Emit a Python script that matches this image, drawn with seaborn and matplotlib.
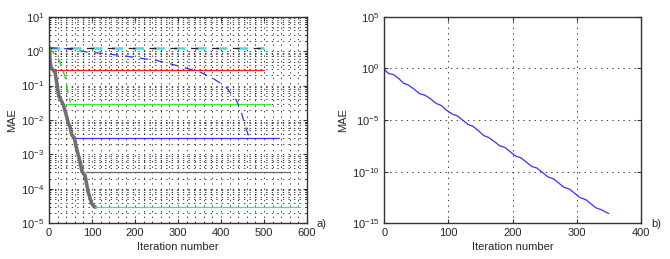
import numpy as np
import matplotlib
matplotlib.use('Agg')
import matplotlib.pyplot as plt
import seaborn as sns
from matplotlib.ticker import MultipleLocator, LogLocator, NullLocator, FixedLocator

# ---- panel a) : exponents (log10 MAE) ----
thick_x = [0, 2, 5, 10, 14, 18, 23, 28, 33, 39, 45, 49, 53, 59, 64, 72, 77, 84, 91, 99, 105, 108]
thick_exp = [0.12, -0.24, -0.48, -0.56, -0.6, -0.92, -1.31, -1.42, -1.55, -1.8, -2.09, -2.2,
             -2.43, -2.52, -2.82, -3.2, -3.5, -3.62, -4.08, -4.42, -4.52, -4.53]

flat_start = [15, 40, 62, 86, 107]
flat_end = [500, 515, 535, 560, 585]
flat_level = [0.29, 0.03, 0.003, 0.0003, 0.00003]
flat_color = ['#ff1a1a', '#33ee33', '#3333ff', '#666666', '#22e0e0']

top_x = [0, 500]
top_level = [1.25, 1.25]

blue_dash_x = [0, 40, 90, 130, 170, 210, 250, 280, 315, 350, 380, 410, 435, 448, 457, 466]
blue_dash_exp = [0.1, 0.07, -0.03, -0.07, -0.13, -0.2, -0.27, -0.36, -0.48, -0.6, -0.78,
                 -1.02, -1.4, -1.8, -2.2, -2.52]

green_dash_x = [0, 10, 25, 37, 43, 50]
green_dash_exp = [0.1, -0.05, -0.29, -0.73, -1.12, -1.5]

# ---- panel b) ----
b_x = [0, 3, 7, 14, 22, 30, 37, 45, 55, 63, 71, 81, 89, 98, 107, 114, 122, 131, 138, 147,
       155, 163, 172, 180, 188, 197, 205, 213, 222, 230, 238, 247, 255, 264, 272, 280, 289,
       297, 305, 314, 322, 330, 339, 345, 350]
b_exp = [0, -0.3, -0.5, -0.6, -0.95, -1.45, -1.6, -1.95, -2.45, -2.6, -2.9, -3.4, -3.6, -4.1,
         -4.45, -4.6, -5.0, -5.45, -5.6, -6.05, -6.5, -6.7, -7.1, -7.5, -7.65, -8.1, -8.5,
         -8.65, -9.1, -9.5, -9.65, -10.1, -10.5, -10.7, -11.1, -11.5, -11.7, -12.1, -12.5,
         -12.7, -13.1, -13.5, -13.7, -13.9, -14.05]

sns.set_style('ticks')
plt.rcParams['font.family'] = ['Liberation Sans', 'DejaVu Sans']
plt.rcParams['font.size'] = 8
plt.rcParams['lines.scale_dashes'] = False
plt.rcParams['axes.edgecolor'] = '#333333'

fig = plt.figure(figsize=(6.7, 2.59), dpi=100)
ax1 = fig.add_axes([0.0731, 0.1378, 0.385, 0.7977])
ax2 = fig.add_axes([0.5736, 0.1378, 0.3827, 0.7977])


def style_axes(ax):
    ax.set_yscale('log')
    ax.tick_params(which='both', direction='in', top=True, right=True, labelsize=8,
                   color='#333333')
    ax.tick_params(which='major', length=3)
    ax.tick_params(which='minor', length=1.5)
    for s in ax.spines.values():
        s.set_linewidth(1.0)
    ax.set_xlabel('Iteration number', fontsize=8, labelpad=2.5)
    ax.set_ylabel('MAE', fontsize=8, labelpad=3)


# panel a)
sns.lineplot(x=thick_x, y=np.power(10.0, thick_exp), ax=ax1, color='#707070', lw=2.6)
for xs, xe, lev, col in zip(flat_start, flat_end, flat_level, flat_color):
    sns.lineplot(x=[xs, xe], y=[lev, lev], ax=ax1, color=col, lw=0.9)
sns.lineplot(x=top_x, y=top_level, ax=ax1, color='#44dddd', lw=1.8, linestyle=(0, (8, 7)))
sns.lineplot(x=top_x, y=top_level, ax=ax1, color='#222222', lw=0.9, linestyle=(3, (5, 10)))
sns.lineplot(x=blue_dash_x, y=np.power(10.0, blue_dash_exp), ax=ax1, color='#3333ff',
             lw=0.9, linestyle=(0, (6, 5)), sort=False)
sns.lineplot(x=green_dash_x, y=np.power(10.0, green_dash_exp), ax=ax1, color='#22dd22',
             lw=1.0, linestyle=(0, (6, 4)), sort=False)

style_axes(ax1)
ax1.set_xlim(0, 600)
ax1.set_ylim(1e-5, 10)
ax1.xaxis.set_major_locator(MultipleLocator(100))
ax1.xaxis.set_minor_locator(MultipleLocator(20))
ax1.yaxis.set_major_locator(LogLocator(base=10, numticks=10))
ax1.yaxis.set_minor_locator(LogLocator(base=10, subs=np.arange(2, 10), numticks=20))
ax1.grid(True, which='both', linestyle=(0, (1, 3)), color='#222222', lw=0.6)

# panel b)
sns.lineplot(x=b_x, y=np.power(10.0, b_exp), ax=ax2, color='#3333ff', lw=0.9)
style_axes(ax2)
ax2.set_xlim(0, 400)
ax2.set_ylim(1e-15, 1e5)
ax2.xaxis.set_major_locator(MultipleLocator(100))
ax2.xaxis.set_minor_locator(NullLocator())
ax2.yaxis.set_major_locator(FixedLocator([1e-15, 1e-10, 1e-5, 1e0, 1e5]))
ax2.yaxis.set_minor_locator(NullLocator())
ax2.grid(True, which='major', linestyle=(0, (1, 3)), color='#222222', lw=0.6)

fig.text(0.473, 0.125, 'a)', fontsize=8)
fig.text(0.972, 0.122, 'b)', fontsize=8)

fig.savefig('out.png', dpi=100)
